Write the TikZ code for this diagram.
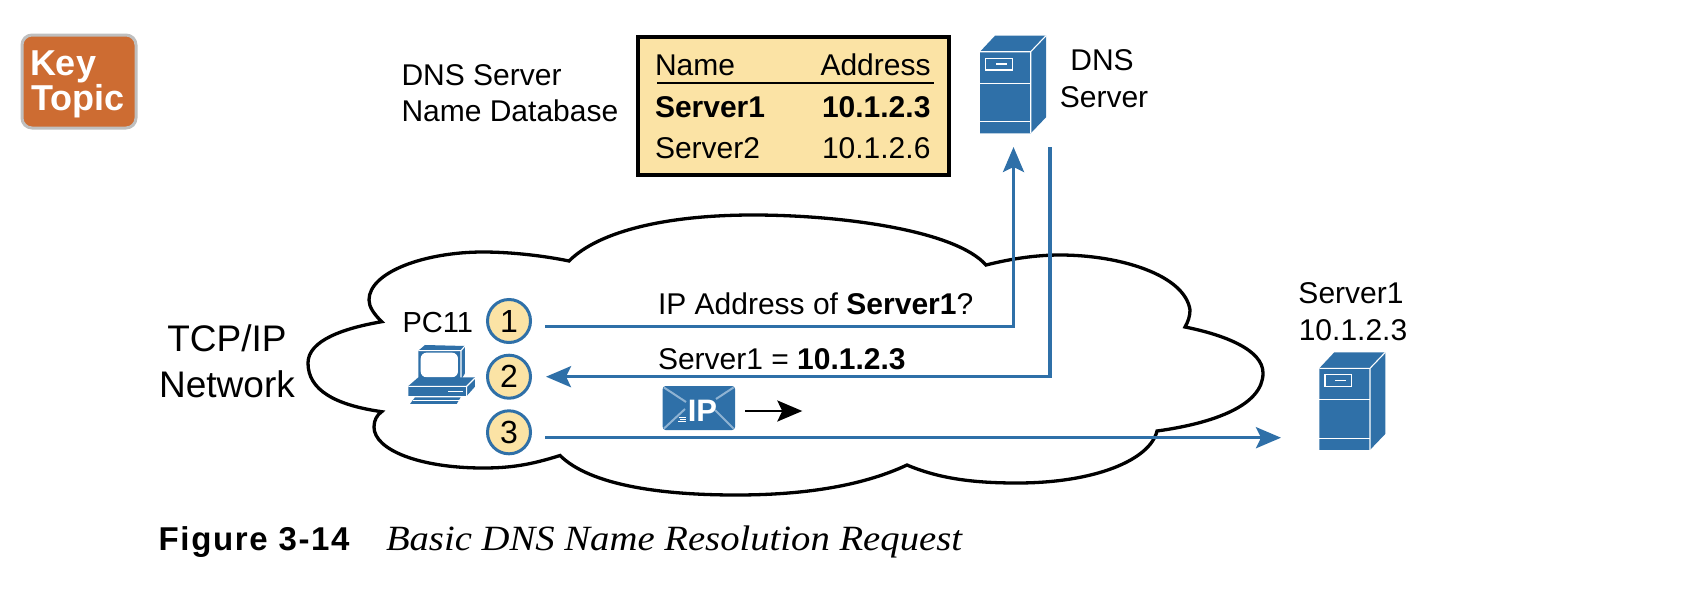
\documentclass[tikz,border=0pt]{standalone}
\usepackage{fontspec}
\usetikzlibrary{arrows.meta}
\setmainfont{Liberation Sans}
\newfontfamily\capserif[FakeStretch=1.09]{Liberation Serif}
\newfontfamily\capbold[LetterSpace=5]{Liberation Sans}
\definecolor{netblue}{HTML}{2F70A8}
\definecolor{paleblue}{HTML}{8FB3D3}
\definecolor{tan}{HTML}{FBE3A5}
\definecolor{keyorange}{HTML}{CD6C32}
\newcommand{\fs}[1]{\fontsize{#1}{#1}\selectfont}
\newcommand{\serverglyph}{%
  \fill[netblue] (980,51.7) -- (995,35.7) -- (1046,35.7) -- (1046,117.3) -- (1030.7,133.3) -- (980,133.3) -- cycle;
  \draw[wline] (980,51.7) -- (1030.7,51.7) -- (1046,35.7) (1030.7,51.7) -- (1030.7,133.3);
  \draw[wline] (980,83.3) -- (1030.7,83.3) (980,121.7) -- (1030.7,121.7);
  \draw[wline] (985.7,58.3) rectangle (1012.3,70) (996,64) -- (1006.7,64);
}
\tikzset{
  x=1pt,y=-1pt,
  wline/.style={draw=white,line width=1.1pt},
  txt/.style={inner sep=0pt,outer sep=0pt,anchor=base west,font=\fs{30}},
  ctxt/.style={txt,anchor=base},
  flow/.style={draw=netblue,line width=3.3pt,line join=miter},
  tiparrow/.style={-{Stealth[length=25pt,width=21pt,inset=5pt]}},
  stepnum/.style={circle,draw=netblue,line width=3pt,fill=tan,minimum size=43pt,inner sep=0pt,font=\fs{32}},
}
\begin{document}
\begin{tikzpicture}
\useasboundingbox (0,0) rectangle (1704,600);
% key topic
\fill[keyorange,draw=black!25,line width=3pt,rounded corners=10pt] (22,35) rectangle (136,128);
\node[txt,font=\fs{36}\bfseries,text=white] (key) at (30,75) {Key};
\node[txt,font=\fs{36}\bfseries,text=white] (topic) at (31.5,110) {Topic};
% database
\node[txt] (dbl1) at (401.5,85.7) {DNS Server};
\node[txt] (dbl2) at (401.5,121) {Name Database};
\fill[tan,draw=black,line width=4pt] (638,37) rectangle (949,175);
\node[txt] (hname) at (655,75) {Name};
\node[txt] (haddr) at (820.5,75) {Address};
\draw[line width=1.5pt] (657,83) -- (934,83);
\node[txt,font=\fs{30}\bfseries] (s1n) at (655,117) {Server1};
\node[txt,font=\fs{30}\bfseries] (s1a) at (822,117) {10.1.2.3};
\node[txt] (s2n) at (655,158) {Server2};
\node[txt] (s2a) at (822,158) {10.1.2.6};
% dns server
\serverglyph
\node[ctxt] (dnsl1) at (1102,70.7) {DNS};
\node[ctxt] (dnsl2) at (1104,107) {Server};
% cloud
\draw[fill=white,line width=3.3pt,line join=miter,miter limit=6]
 (381.7,321.7) .. controls (374,314) and (369,307) .. (369,300)
 .. controls (369,272) and (425,252) .. (483,252)
 .. controls (512,252) and (545,256) .. (569,261)
 .. controls (600,230) and (670,215) .. (753,215)
 .. controls (840,215) and (955,230) .. (986,265)
 .. controls (1010,259) and (1035,255) .. (1060,255)
 .. controls (1120,255) and (1185,275) .. (1190,310)
 .. controls (1190,316) and (1188,322) .. (1185,327)
 .. controls (1225,335) and (1263,350) .. (1263,373)
 .. controls (1263,405) and (1215,423) .. (1157,431)
 .. controls (1150,460) and (1095,483) .. (1017,483)
 .. controls (975,483) and (940,479) .. (907,465)
 .. controls (860,487) and (800,495) .. (736,495)
 .. controls (660,495) and (590,485) .. (560,455.5)
 .. controls (530,465) and (510,468) .. (483,468)
 .. controls (420,468) and (374,450) .. (374,427)
 .. controls (374,420) and (377,415) .. (381.7,411.7)
 .. controls (335,405) and (308,390) .. (308,363)
 .. controls (308,340) and (345,328) .. (381.7,321.7) -- cycle;
\node[txt,font=\fs{37},anchor=base] (tcp) at (227,351) {TCP/IP};
\node[txt,font=\fs{37},anchor=base] (netw) at (227,397) {Network};
% pc
\node[txt,font=\fs{29}] (pc) at (402.5,332.7) {PC11};
\begin{scope}[shift={(360,260)},scale=0.3333]
  \fill[netblue] (175,272) -- (195,255) -- (315,258) -- (315,340) -- (303,360) -- (175,360) -- cycle;
  \draw[wline] (175,272) -- (303,272) -- (315,258) (303,272) -- (303,360);
  \fill[white,rounded corners=6pt] (182,278) rectangle (294,352);
  \fill[netblue] (175,352) -- (300,352) -- (345,352) -- (345,380) -- (320,408) -- (145,408) -- (145,378) -- cycle;
  \draw[wline] (145,379) -- (320,379) -- (345,354) (320,379) -- (320,408);
  \draw[wline] (265,395) -- (308,395);
  \fill[netblue] (165,412) -- (302,412) -- (290,432) -- (150,432) -- cycle;
  \draw[wline] (160,422) -- (296,422);
\end{scope}
% step circles
\node[stepnum] (c1) at (509,321) {1};
\node[stepnum] (c2) at (509,376.7) {2};
\node[stepnum] (c3) at (509,432.3) {3};
% second server
\begin{scope}[shift={(339.3,316.6)}]
  \serverglyph
\end{scope}
\node[ctxt] (srvl1) at (1351,303.3) {Server1};
\node[ctxt] (srvl2) at (1353,340) {10.1.2.3};
% connectors
\coordinate (q1) at (545,326.7);
\coordinate (q1t) at (1013.5,147);
\coordinate (r2s) at (1050,147);
\coordinate (r2e) at (546,376.7);
\coordinate (p3) at (545,437.7);
\coordinate (p3t) at (1281,437.7);
\draw[flow,tiparrow] (q1) -| (q1t);
\draw[flow,tiparrow] (r2s) |- (r2e);
\draw[flow,tiparrow] (p3) -- (p3t);
\node[txt] (lq) at (658,314) {IP Address of \textbf{Server1}?};
\node[txt] (lr) at (658,369.3) {Server1 = \textbf{10.1.2.3}};
% IP packet
\fill[netblue,rounded corners=3pt] (662.7,386) rectangle (735,430);
\draw[draw=paleblue,line width=2pt] (664,387.5) -- (686,402) (733.5,387.5) -- (716,399) (664,428.5) -- (685,409) (733.5,428.5) -- (715,410);
\node[inner sep=0pt,font=\fs{31}\bfseries,text=white] (ip) at (702.5,410.5) {IP};
\draw[white,line width=0.8pt] (678.5,417) -- (686,417) (679.5,419) -- (686,419) (678,421) -- (686,421);
\coordinate (m1) at (745.3,411);
\coordinate (m2) at (802.3,411);
\draw[line width=2.8pt,tiparrow] (m1) -- (m2);
% caption
\node[txt,font=\fs{33}\capbold\bfseries] (figno) at (158.7,550) {Figure 3-14};
\node[txt,font=\fs{35.5}\capserif\itshape] (figcap) at (386,550) {Basic DNS Name Resolution Request};
\end{tikzpicture}
\end{document}
